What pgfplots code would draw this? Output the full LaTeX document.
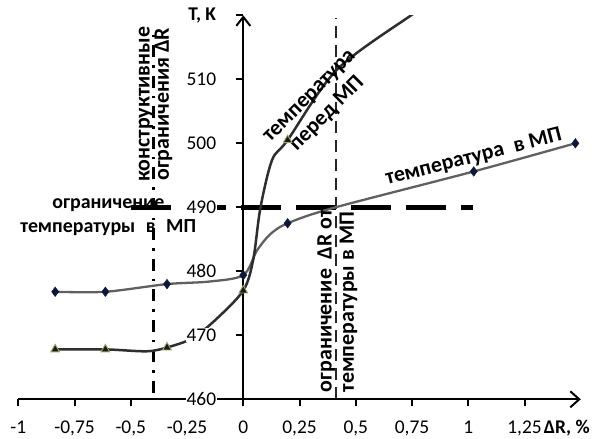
\documentclass[border=0pt]{standalone}
\usepackage{fontspec}
\setmainfont{Carlito}
\usepackage{pgfplots}
\pgfplotsset{compat=1.18}
\usetikzlibrary{arrows.meta}
\definecolor{navy}{HTML}{0B1838}
\definecolor{triout}{HTML}{9DA56A}
\definecolor{lineA}{HTML}{606060}
\definecolor{lineB}{HTML}{2E2E2E}
\newcommand{\annot}{\fontsize{20}{24}\selectfont\bfseries}
\newcommand{\annotr}{\fontsize{22}{22.5}\selectfont\bfseries}
\newcommand{\annotd}{\fontsize{22}{25}\selectfont\bfseries}
\newcommand{\tickf}{\fontsize{19.5}{22}\selectfont}
\begin{document}
\begin{tikzpicture}
\begin{axis}[
  scale only axis,
  width=562.5bp, height=384bp,
  xmin=-1, xmax=1.5, ymin=460, ymax=520,
  axis x line=bottom, axis y line=center,
  axis on top,
  hide obscured x ticks=false, hide obscured y ticks=false,
  axis line style={line width=2.2bp, black},
  x axis line style={-{Straight Barb[length=9bp,width=16bp,line width=2bp]}},
  y axis line style={-{Straight Barb[length=9bp,width=14bp,line width=2bp]}},
  xtick={-1,-0.75,-0.5,-0.25,0,0.25,0.5,0.75,1,1.25},
  xticklabels={-1,{-0,75},{-0,5},{-0,25},0,{0,25},{0,5},{0,75},1,{1,25}},
  extra x ticks={1.5},
  extra x tick labels={{\textbf{ΔR, \%}}},
  extra x tick style={major tick length=0pt, xticklabel style={xshift=-14bp, yshift=-6bp}},
  ytick={460,470,480,490,500,510,520},
  yticklabels={460,470,480,490,500,510,{\textbf{T, K}}},
  tick style={line width=2bp, black},
  major tick length=7bp,
  tick align=outside,
  tick label style={font=\tickf},
  xticklabel style={yshift=-11bp},
  yticklabel style={fill=white, inner sep=0.5bp, xshift=-19.5bp},
]
% bounding box corners
\coordinate (bbBL) at (axis cs:-1.0813,453.8);
\coordinate (bbTR) at (axis cs:1.612,522.39);

% limit lines
\addplot[line width=5bp, black, dash pattern=on 40bp off 15bp] coordinates {(-0.5,490) (1.02,490)};
\addplot[line width=2.7bp, black, dash pattern=on 12bp off 8bp on 2.5bp off 8bp] coordinates {(-0.4,461) (-0.4,517.5)};
\addplot[line width=1.8bp, black!85, dash pattern=on 12bp off 7bp] coordinates {(0.412,460) (0.412,519.5)};

% temperature in MP (diamonds)
\addplot[lineA, line width=2.3bp, smooth] coordinates {
(-0.836,476.8) (-0.613,476.8) (-0.339,478.0) (-0.15,478.4) (0,479.4) (0.06,483.2) (0.12,485.8) (0.197,487.5) (0.4,489.9) (1.024,495.6) (1.476,500.0)};
% temperature before MP (triangles)
\addplot[lineB, line width=2.5bp, smooth] coordinates {
(-0.836,467.8) (-0.613,467.8) (-0.43,467.5) (-0.339,468.1) (-0.228,469.5) (-0.124,472.4) (0,477.0) (0.044,481.8) (0.076,489.9) (0.128,497.4) (0.197,500.5) (0.416,511.5) (0.75,520.1) (0.9,523.5)};

\addplot[only marks, mark=diamond*, mark size=4.8bp, mark options={fill=navy, draw=navy}] coordinates {
(-0.836,476.8) (-0.613,476.8) (-0.339,478.0) (0,479.4) (0.197,487.5) (1.024,495.6) (1.476,500.0)};
\addplot[only marks, mark=triangle*, mark size=5bp, mark options={fill=black!90, draw=triout, line width=0.9bp}] coordinates {
(-0.836,467.8) (-0.613,467.8) (-0.339,468.1) (0,477.0) (0.197,500.5)};

% annotations
\node[rotate=90, anchor=base, font=\annotr, inner sep=0pt] at (axis cs:-0.416,506.1) {конструктивные};
\node[rotate=90, anchor=base, font=\annotr, inner sep=0pt] at (axis cs:-0.331,506.1) {ограничения ΔR};
\node[rotate=90, align=left, anchor=west, font=\annotr, inner sep=0pt] at (axis cs:0.418,461.1) {ограничение\hspace{0.2em} ΔR от\\температуры в МП};
\node[rotate=45, align=center, font=\annotd, inner sep=0pt] at (axis cs:0.338,505.8) {температура\\перед МП};
\node[rotate=14.3, font=\annotd, inner sep=0pt] at (axis cs:1.024,497.8) {температура\hspace{0.25em} в МП};
\node[align=center, font=\annot, inner sep=0pt] at (axis cs:-0.6,488.4) {ограничение\\температуры\hspace{0.3em} в\hspace{0.3em} МП};
\end{axis}
\pgfresetboundingbox
\path[use as bounding box] (bbBL) rectangle (bbTR);
\end{tikzpicture}
\end{document}
